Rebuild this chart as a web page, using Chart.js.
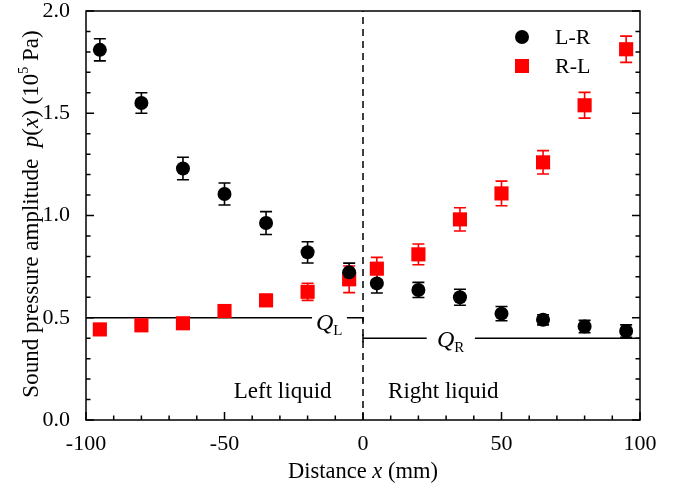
<!DOCTYPE html>
<html>
<head>
<meta charset="utf-8">
<script src="https://cdn.jsdelivr.net/npm/chart.js@4.4.1/dist/chart.umd.min.js"></script>
<style>
html, body { margin: 0; padding: 0; background: #fff; }
#wrap { width: 681px; height: 497px; }
</style>
</head>
<body>
<div id="wrap"><canvas id="chart"></canvas></div>
<script>
// measurement positions (mm) and amplitudes (10^5 Pa)
const positions = [-95, -80, -65, -50, -35, -20, -5, 5, 20, 35, 50, 65, 80, 95];
const lrValues = [1.81, 1.55, 1.23, 1.105, 0.963, 0.82, 0.722, 0.668, 0.636, 0.60, 0.52, 0.49, 0.457, 0.435];
const lrErrors = [0.054, 0.05, 0.055, 0.054, 0.056, 0.052, 0.045, 0.047, 0.037, 0.039, 0.035, 0.025, 0.03, 0.03];
const rlValues = [0.443, 0.463, 0.473, 0.533, 0.585, 0.627, 0.688, 0.74, 0.81, 0.981, 1.108, 1.26, 1.539, 1.813];
const rlErrors = [0.01, 0.01, 0.015, 0.015, 0.028, 0.042, 0.065, 0.055, 0.051, 0.057, 0.06, 0.057, 0.063, 0.064];

// reference levels Q_L and Q_R
const qLeftLevel = 0.5;
const qRightLevel = 0.4;

const FONT = "'Liberation Serif', 'Times New Roman', serif";
const RED = '#ff0000';

// draws a run of text pieces (normal / italic / sub / sup) starting at x,y
function drawRich(ctx, parts, x, y, align) {
    let total = 0;
    parts.forEach(p => {
        ctx.font = (p.italic ? 'italic ' : '') + p.size + 'px ' + FONT;
        p.w = ctx.measureText(p.text).width;
        total += p.w;
    });
    let cx = align === 'center' ? x - total / 2 : x;
    parts.forEach(p => {
        ctx.font = (p.italic ? 'italic ' : '') + p.size + 'px ' + FONT;
        ctx.fillText(p.text, cx, y + (p.dy || 0));
        cx += p.w;
    });
}

const extrasPlugin = {
    id: 'extras',
    beforeDatasetsDraw(chart) {
        const ctx = chart.ctx;
        const xs = chart.scales.x, ys = chart.scales.y;
        const area = chart.chartArea;
        ctx.save();

        // dashed divider at x = 0
        ctx.strokeStyle = '#000';
        ctx.lineWidth = 1.5;
        ctx.setLineDash([7, 5]);
        ctx.beginPath();
        ctx.moveTo(xs.getPixelForValue(0), area.bottom);
        ctx.lineTo(xs.getPixelForValue(0), area.top);
        ctx.stroke();
        ctx.setLineDash([]);

        // Q_L and Q_R level lines
        const yl = ys.getPixelForValue(qLeftLevel);
        const yr = ys.getPixelForValue(qRightLevel);
        const x0 = xs.getPixelForValue(0);
        ctx.beginPath();
        ctx.moveTo(xs.getPixelForValue(-100), yl);
        ctx.lineTo(xs.getPixelForValue(-18.4), yl);
        ctx.moveTo(xs.getPixelForValue(-5.8), yl);
        ctx.lineTo(x0, yl);
        ctx.lineTo(x0, yl + 4);
        ctx.moveTo(x0, yr - 4);
        ctx.lineTo(x0, yr + 4);
        ctx.moveTo(x0, yr);
        ctx.lineTo(xs.getPixelForValue(23), yr);
        ctx.moveTo(xs.getPixelForValue(40.4), yr);
        ctx.lineTo(xs.getPixelForValue(100), yr);
        ctx.stroke();

        // error bars
        const sets = [[lrValues, lrErrors, '#000'], [rlValues, rlErrors, RED]];
        sets.forEach(([vals, errs, col]) => {
            ctx.strokeStyle = col;
            ctx.lineWidth = 1.6;
            positions.forEach((p, i) => {
                const px = xs.getPixelForValue(p);
                const top = ys.getPixelForValue(vals[i] + errs[i]);
                const bot = ys.getPixelForValue(vals[i] - errs[i]);
                ctx.beginPath();
                ctx.moveTo(px, top); ctx.lineTo(px, bot);
                ctx.moveTo(px - 6, top); ctx.lineTo(px + 6, top);
                ctx.moveTo(px - 6, bot); ctx.lineTo(px + 6, bot);
                ctx.stroke();
            });
        });
        ctx.restore();
    },
    afterDraw(chart) {
        const ctx = chart.ctx;
        const xs = chart.scales.x, ys = chart.scales.y;
        const a = chart.chartArea;
        ctx.save();
        ctx.strokeStyle = '#000';
        ctx.fillStyle = '#000';
        ctx.lineWidth = 1.5;

        // frame
        ctx.strokeRect(a.left, a.top, a.right - a.left, a.bottom - a.top);

        // inward ticks: left, right and bottom (none on top)
        ctx.beginPath();
        for (let k = 0; k <= 20; k++) {
            const py = ys.getPixelForValue(k / 10);
            const len = k % 5 === 0 ? 8 : 4.5;
            ctx.moveTo(a.left, py); ctx.lineTo(a.left + len, py);
            ctx.moveTo(a.right, py); ctx.lineTo(a.right - len, py);
        }
        for (let v = -100; v <= 100; v += 10) {
            const px = xs.getPixelForValue(v);
            const len = v % 50 === 0 ? 8 : 4.5;
            ctx.moveTo(px, a.bottom); ctx.lineTo(px, a.bottom - len);
        }
        ctx.stroke();

        // Q labels
        ctx.textBaseline = 'alphabetic';
        drawRich(ctx, [
            { text: 'Q', italic: true, size: 24 },
            { text: 'L', size: 15, dy: 5 }
        ], 316, ys.getPixelForValue(qLeftLevel) + 12, 'left');
        drawRich(ctx, [
            { text: 'Q', italic: true, size: 24 },
            { text: 'R', size: 15, dy: 5 }
        ], 437, ys.getPixelForValue(qRightLevel) + 9, 'left');

        // region labels
        ctx.font = '23px ' + FONT;
        ctx.textAlign = 'center';
        ctx.fillText('Left liquid', xs.getPixelForValue(-29), ys.getPixelForValue(0.11));
        ctx.fillText('Right liquid', xs.getPixelForValue(29), ys.getPixelForValue(0.11));
        ctx.textAlign = 'left';

        // legend
        ctx.beginPath();
        ctx.arc(522, 37, 7, 0, Math.PI * 2);
        ctx.fill();
        ctx.fillStyle = RED;
        ctx.fillRect(515, 59, 14, 14);
        ctx.fillStyle = '#000';
        ctx.font = '22px ' + FONT;
        ctx.textBaseline = 'middle';
        ctx.fillText('L-R', 555, 38);
        ctx.fillText('R-L', 555, 67);

        // axis titles
        ctx.textBaseline = 'alphabetic';
        drawRich(ctx, [
            { text: 'Distance ', size: 22.5 },
            { text: 'x', italic: true, size: 22.5 },
            { text: ' (mm)', size: 22.5 }
        ], (a.left + a.right) / 2, 478, 'center');

        ctx.translate(38, 214);
        ctx.rotate(-Math.PI / 2);
        drawRich(ctx, [
            { text: 'Sound pressure amplitude  ', size: 23 },
            { text: 'p', italic: true, size: 23 },
            { text: '(', size: 23 },
            { text: 'x', italic: true, size: 23 },
            { text: ') (10', size: 23 },
            { text: '5', size: 14, dy: -10 },
            { text: ' Pa)', size: 23 }
        ], 0, 0, 'center');
        ctx.restore();
    }
};

const ctx = document.getElementById('chart').getContext('2d');
const myChart = new Chart(ctx, {
    type: 'scatter',
    data: {
        datasets: [
            {
                label: 'L-R',
                data: positions.map((p, i) => ({ x: p, y: lrValues[i] })),
                pointStyle: 'circle',
                pointRadius: 7,
                backgroundColor: '#000',
                borderColor: '#000',
                borderWidth: 0
            },
            {
                label: 'R-L',
                data: positions.map((p, i) => ({ x: p, y: rlValues[i] })),
                pointStyle: 'rect',
                pointRadius: 10,
                backgroundColor: RED,
                borderColor: RED,
                borderWidth: 0
            }
        ]
    },
    options: {
        responsive: true,
        maintainAspectRatio: false,
        animation: false,
        events: [],
        layout: { padding: { top: 11, right: 41, left: 0, bottom: 0 } },
        plugins: {
            legend: { display: false },
            tooltip: { enabled: false }
        },
        scales: {
            x: {
                type: 'linear',
                min: -100,
                max: 100,
                grid: { display: false },
                border: { display: false },
                ticks: {
                    stepSize: 50,
                    color: '#000',
                    padding: 5,
                    font: { family: FONT, size: 22, lineHeight: 1 }
                },
                afterFit(scale) { scale.height = 77; }
            },
            y: {
                min: 0,
                max: 2,
                grid: { display: false },
                border: { display: false },
                ticks: {
                    stepSize: 0.5,
                    color: '#000',
                    padding: 8,
                    font: { family: FONT, size: 22, lineHeight: 0.1 },
                    callback: v => v.toFixed(1)
                },
                afterFit(scale) { scale.width = 86; }
            }
        }
    },
    plugins: [extrasPlugin]
});
</script>
</body>
</html>
